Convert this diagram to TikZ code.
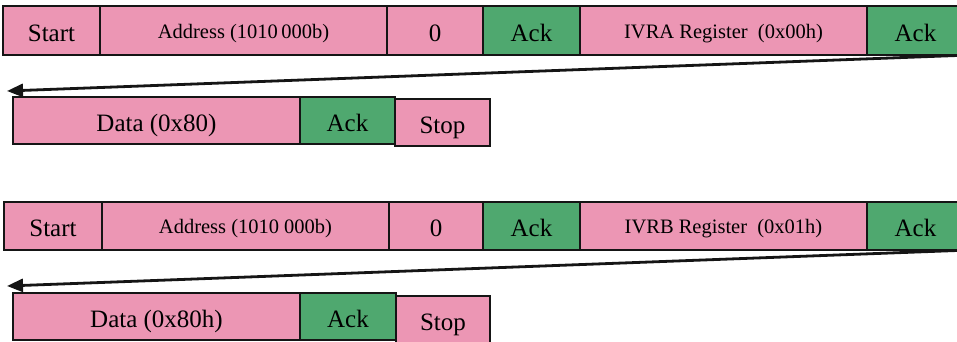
\documentclass[tikz,border=0pt]{standalone}
\usepackage{fontspec}
\setmainfont{Liberation Serif}
\usetikzlibrary{arrows.meta}
\definecolor{pk}{HTML}{EC96B4}
\definecolor{gn}{HTML}{4FA86F}
\definecolor{ln}{HTML}{151515}
\begin{document}
\begin{tikzpicture}[x=1pt,y=-1pt,
  cell/.style={draw=ln,line width=1.8pt,inner sep=0pt,outer sep=0pt,anchor=north west,text depth=0pt},
  big/.style={cell,font=\fontsize{25}{30}\selectfont,text height=21.5pt},
  small/.style={cell,font=\fontsize{20.5}{24}\selectfont,text height=15.8pt},
  pinkc/.style={fill=pk},
  greenc/.style={fill=gn},
  wrap/.style={-{Triangle[length=16pt,width=13pt]},line width=2.8pt,ln}]
\useasboundingbox (0,0) rectangle (957,341);
\begin{scope}
\clip (0,0) rectangle (957,341);
% group 1
\node[big,pinkc,minimum width=97pt,minimum height=49pt] (s1) at (3,6) {Start};
\node[small,pinkc,minimum width=287pt,minimum height=49pt] (a1) at (100,6) {Address (1010\,000b)};
\node[big,pinkc,minimum width=96pt,minimum height=49pt] (z1) at (387,6) {0};
\node[big,greenc,minimum width=97pt,minimum height=49pt] (k1) at (483,6) {Ack};
\node[small,pinkc,minimum width=287pt,minimum height=49pt] (r1) at (580,6) {IVRA Register\ \ (0x00h)};
\node[big,greenc,minimum width=97pt,minimum height=49pt] (k2) at (867,6) {Ack};
\coordinate (e1) at (957,55.5);
\coordinate (t1) at (7,91);
\draw[wrap] (e1) -- (t1);
\node[big,pinkc,minimum width=287pt,minimum height=47pt] (d1) at (13,97) {Data (0x80)};
\node[big,greenc,minimum width=95pt,minimum height=47pt] (k3) at (300,97) {Ack};
\node[big,pinkc,minimum width=95pt,minimum height=47pt] (p1) at (395,99) {Stop};
% group 2
\node[big,pinkc,minimum width=98pt,minimum height=48pt] (s2) at (4,202) {Start};
\node[small,pinkc,minimum width=287pt,minimum height=48pt] (a2) at (102,202) {Address (1010 000b)};
\node[big,pinkc,minimum width=94pt,minimum height=48pt] (z2) at (389,202) {0};
\node[big,greenc,minimum width=97pt,minimum height=48pt] (k4) at (483,202) {Ack};
\node[small,pinkc,minimum width=287pt,minimum height=48pt] (r2) at (580,202) {IVRB Register\ \ (0x01h)};
\node[big,greenc,minimum width=97pt,minimum height=48pt] (k5) at (867,202) {Ack};
\coordinate (e2) at (957,250.5);
\coordinate (t2) at (7,286);
\draw[wrap] (e2) -- (t2);
\node[big,pinkc,minimum width=287pt,minimum height=47pt] (d2) at (13,293) {Data (0x80h)};
\node[big,greenc,minimum width=96pt,minimum height=47pt] (k6) at (300,293) {Ack};
\node[big,pinkc,minimum width=94pt,minimum height=47pt] (p2) at (396,296) {Stop};
\end{scope}
\end{tikzpicture}
\end{document}
